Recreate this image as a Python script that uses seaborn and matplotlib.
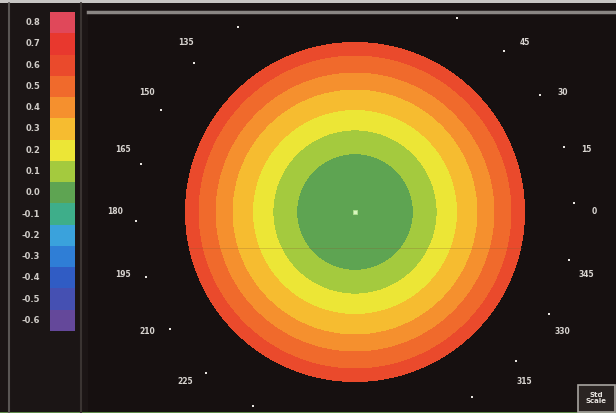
import numpy as np
import pandas as pd
import matplotlib
matplotlib.use("Agg")
import matplotlib.pyplot as plt
from matplotlib.colors import ListedColormap
from matplotlib.patches import Rectangle
import seaborn as sns

# Colour scale (dioptres), top to bottom, and the colour of each step
scale_values = [0.8, 0.7, 0.6, 0.5, 0.4, 0.3, 0.2, 0.1, 0.0,
                -0.1, -0.2, -0.3, -0.4, -0.5, -0.6]
scale_colors = ["#e0485a", "#e8382e", "#ea4a2c", "#f06a2c", "#f5902e",
                "#f6bc30", "#ece636", "#a4ca3e", "#5ea452",
                "#3eae8a", "#3aa2dc", "#2f7ed6", "#305cc4", "#4550b2",
                "#64489a"]

# Concentric zones of the map: outer radius (mm) and value (dioptres)
zone_outer_radius_mm = [1.7, 2.4, 3.0, 3.6, 4.1, 4.6, 5.0]
zone_values = [0.0, 0.1, 0.2, 0.3, 0.4, 0.5, 0.6]

# Meridian marks every 15 degrees; labels on the meridians that fit the frame
meridians = list(range(0, 360, 15))
labelled_meridians = [0, 15, 30, 45, 135, 150, 165, 180, 195, 210, 225,
                      315, 330, 345]

# ---------------------------------------------------------------------------
W, H = 616, 413
fig = plt.figure(figsize=(W / 100, H / 100), dpi=100, facecolor="#1b1515")
sns.set_style("dark")

bg = "#161010"
cols, rows = 528, 401          # one heatmap cell per output pixel
cx, cy = 267, 200              # map centre in cell units
px_per_mm = 34.0

ax = fig.add_axes([88 / W, 0, cols / W, rows / H])
ax.set_facecolor(bg)

x_mm = (np.arange(cols) + 0.5 - cx) / px_per_mm
y_mm = (cy - (np.arange(rows) + 0.5)) / px_per_mm
XX, YY = np.meshgrid(x_mm, y_mm)
RR = np.hypot(XX, YY)
grid = np.full(RR.shape, np.nan)
for r_out, val in zip(zone_outer_radius_mm[::-1], zone_values[::-1]):
    grid[RR <= r_out] = val
field = pd.DataFrame(grid)

asc_colors = scale_colors[::-1]
cmap = ListedColormap(asc_colors)
vmin, vmax = min(scale_values) - 0.05, max(scale_values) + 0.05

sns.heatmap(field, ax=ax, cmap=cmap, vmin=vmin, vmax=vmax, cbar=False,
            xticklabels=False, yticklabels=False, rasterized=True)
ax.set_facecolor(bg)
for side, sp in ax.spines.items():
    sp.set_visible(side == "top")
ax.spines["top"].set_color("#8a8684")
ax.spines["top"].set_linewidth(2.5)


def to_cells(xm, ym):
    return cx + xm * px_per_mm, cy - ym * px_per_mm


# faint reference line
x0, y0 = to_cells(-4.9, -1.05)
x1, _ = to_cells(4.9, -1.05)
ax.plot([x0, x1], [y0, y0], color="#8a5a30", lw=0.6, alpha=0.3)

# centre mark
ccx, ccy = to_cells(0, 0)
ax.plot([ccx], [ccy], "s", ms=3.5, color="#d8f5c0", mec="#b0e090", mew=0.6)

# meridian dots
for ang in meridians:
    t = np.deg2rad(ang)
    dx, dy = to_cells(6.45 * np.cos(t + 0.04), 6.45 * np.sin(t + 0.04))
    ax.plot([dx], [dy], "s", ms=1.6, color="#e8e4e0", mew=0, clip_on=True)

# meridian labels
for ang in labelled_meridians:
    t = np.deg2rad(ang)
    lx, ly = to_cells(7.05 * np.cos(t), 7.05 * np.sin(t))
    ax.text(lx, ly, str(ang), color="#d8d4d0", fontsize=5.5,
            fontweight="bold", ha="center", va="center")

ax.set_xlim(0, cols)
ax.set_ylim(rows, 0)

# Colour scale panel
cax = fig.add_axes([50 / W, 1 - 331 / H, 25 / W, 319 / H])
scale_df = pd.DataFrame({"v": scale_values})
sns.heatmap(scale_df, ax=cax, cmap=cmap, vmin=vmin, vmax=vmax, cbar=False,
            xticklabels=False,
            yticklabels=[f"{v:.1f}" for v in scale_values])
cax.tick_params(axis="y", colors="#d0ccc8", labelsize=6, length=3,
                width=0.8, pad=4)
for lab in cax.get_yticklabels():
    lab.set_fontweight("bold")
    lab.set_rotation(0)
for sp in cax.spines.values():
    sp.set_visible(False)

# panel frame lines
fig.add_artist(plt.Line2D([9 / W, 9 / W], [0, 1 - 3 / H],
                          color="#5a5654", lw=1.5))
fig.add_artist(plt.Line2D([81 / W, 81 / W], [0, 1 - 3 / H],
                          color="#3a3432", lw=1.5))
fig.add_artist(Rectangle((0, 1 - 3 / H), 1, 3 / H, transform=fig.transFigure,
                         color="#c8c6c4", lw=0))
fig.add_artist(Rectangle((0, 0), 1, 1.5 / H, transform=fig.transFigure,
                         color="#5e8a4a", lw=0))

# scale mode box
fig.add_artist(Rectangle((578 / W, 1 / H), 37 / W, 27 / H,
                         transform=fig.transFigure, facecolor="#2a2422",
                         edgecolor="#a8a4a0", lw=1.2))
fig.text(596.5 / W, 15 / H, "Std\nScale", color="#e8e4e0", fontsize=5,
         fontweight="bold", ha="center", va="center", linespacing=1.1)

fig.savefig("out.png", dpi=100, facecolor=fig.get_facecolor())
